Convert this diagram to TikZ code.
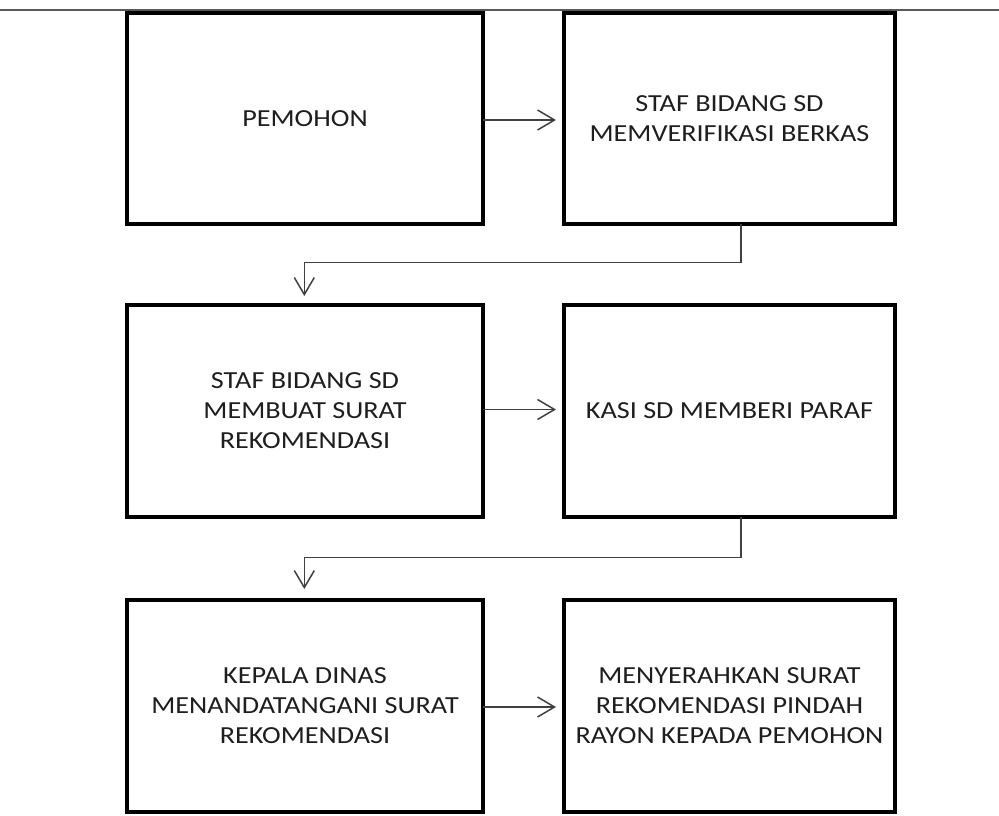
\documentclass[tikz,border=0pt]{standalone}
\usepackage{fontspec}
\setmainfont[FakeStretch=1.15]{Carlito}
\usetikzlibrary{arrows.meta}
\definecolor{linegray}{HTML}{404040}
\definecolor{textgray}{HTML}{1E1E1E}
\tikzset{
  procbox/.style={draw=black, line width=4pt, inner sep=0pt, outer sep=0pt,
    align=center, text=textgray, font=\fontsize{24.5}{30}\selectfont},
  flow/.style={draw=linegray, line width=1.5pt,
    -{Straight Barb[length=17pt,width=20pt,line width=1.5pt]}}
}
\begin{document}
\begin{tikzpicture}[x=1pt,y=-1pt]
\useasboundingbox (0,0) rectangle (999,815);
\draw[draw=black!65, line width=2pt] (0,10) -- (999,10);
% row 1
\node[procbox, minimum width=356pt, minimum height=211pt] (b1) at (305,118.5) {PEMOHON};
\node[procbox, minimum width=331pt, minimum height=211pt] (b2) at (729.5,118.5) {STAF BIDANG SD\\MEMVERIFIKASI BERKAS};
% row 2
\node[procbox, minimum width=356pt, minimum height=211.5pt] (b3) at (305,410.75) {STAF BIDANG SD\\MEMBUAT SURAT\\REKOMENDASI};
\node[procbox, minimum width=331pt, minimum height=211.5pt] (b4) at (729.5,410.75) {KASI SD MEMBERI PARAF};
% row 3
\node[procbox, minimum width=356pt, minimum height=212pt] (b5) at (305,706) {KEPALA DINAS\\MENANDATANGANI SURAT\\REKOMENDASI};
\node[procbox, minimum width=331pt, minimum height=212pt] (b6) at (729.5,706) {MENYERAHKAN SURAT\\REKOMENDASI PINDAH\\RAYON KEPADA PEMOHON};
% horizontal arrows
\draw[flow, shorten >=8pt] ([yshift=-1.5pt]b1.east) -- ([yshift=-1.5pt]b2.west);
\draw[flow, shorten >=8pt] ([yshift=1.25pt]b3.east) -- ([yshift=1.25pt]b4.west);
\draw[flow, shorten >=8pt] ([yshift=-1pt]b5.east) -- ([yshift=-1pt]b6.west);
% elbow connectors
\draw[flow, shorten >=9pt] ([xshift=11.5pt]b2.south) -- ++(0,38.7) -| ([xshift=-0.7pt]b3.north);
\draw[flow, shorten >=11pt] ([xshift=11.5pt]b4.south) -- ++(0,41.2) -| ([xshift=-0.7pt]b5.north);
\end{tikzpicture}
\end{document}
